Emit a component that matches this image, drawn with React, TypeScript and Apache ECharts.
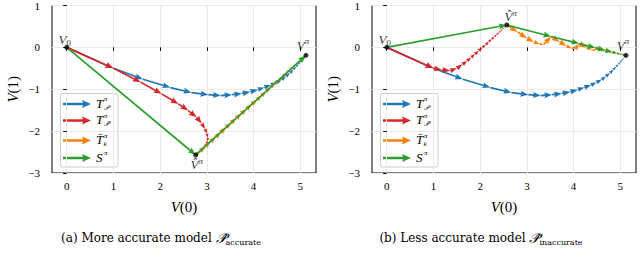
import React, { useEffect, useRef } from 'react';
import * as echarts from 'echarts';

// ---------- data ----------
const xTicks = [0, 1, 2, 3, 4, 5];
const yTicks = [-3, -2, -1, 0, 1];

const pointV0: [number, number] = [0, 0];
const pointVpi: [number, number] = [5.12, -0.19];
const pointVhatA: [number, number] = [2.76, -2.57];
const pointVhatB: [number, number] = [2.57, 0.535];

// T_P iterates (true model) – identical in both panels
const blueIter: [number, number][] = [
  [0, 0], [1.0, -0.5], [1.63, -0.76], [2.22, -0.96], [2.67, -1.08], [3.03, -1.13],
  [3.3, -1.15], [3.54, -1.13], [3.75, -1.1], [3.93, -1.06], [4.09, -1.01], [4.23, -0.96],
  [4.37, -0.9], [4.49, -0.84], [4.6, -0.77], [4.69, -0.69], [4.78, -0.61], [4.85, -0.53],
  [4.91, -0.46], [4.96, -0.4], [5.0, -0.35], [5.04, -0.3], [5.07, -0.26], [5.09, -0.23],
  [5.11, -0.21], [5.12, -0.19],
];

// Panel (a)
const redIterA: [number, number][] = [
  [0, 0], [1.0, -0.5], [1.58, -0.83], [2.03, -1.11], [2.39, -1.35], [2.6, -1.51],
  [2.78, -1.67], [2.89, -1.82], [2.96, -1.95], [3.0, -2.06], [3.02, -2.16], [3.01, -2.25],
  [2.98, -2.33], [2.94, -2.4], [2.9, -2.45], [2.86, -2.49], [2.83, -2.52], [2.8, -2.54],
  [2.78, -2.56], [2.76, -2.57],
];
const orangeIterA: [number, number][] = [
  [2.76, -2.57], [2.86, -2.47], [2.97, -2.36], [3.08, -2.25], [3.19, -2.14], [3.3, -2.03],
  [3.41, -1.91], [3.52, -1.8], [3.63, -1.69], [3.74, -1.58], [3.85, -1.47], [3.96, -1.36],
  [4.07, -1.25], [4.17, -1.15], [4.27, -1.05], [4.37, -0.95], [4.46, -0.86], [4.55, -0.77],
  [4.63, -0.69], [4.71, -0.6], [4.78, -0.53], [4.85, -0.46], [4.91, -0.4], [4.96, -0.35],
  [5.01, -0.3], [5.05, -0.26], [5.08, -0.23], [5.1, -0.21], [5.12, -0.19],
];
const greenIterA: [number, number][] = [[0, 0], [2.76, -2.57], [5.12, -0.19]];

// Panel (b)
const redIterB: [number, number][] = [
  [0, 0], [1.0, -0.5], [1.18, -0.54], [1.36, -0.56], [1.5, -0.5], [1.62, -0.41],
  [1.72, -0.32], [1.81, -0.24], [1.89, -0.16], [1.97, -0.08], [2.05, 0.0], [2.12, 0.07],
  [2.19, 0.14], [2.25, 0.2], [2.31, 0.26], [2.36, 0.31], [2.41, 0.36], [2.45, 0.4],
  [2.48, 0.44], [2.51, 0.47], [2.53, 0.49], [2.55, 0.51], [2.57, 0.535],
];
const orangeIterB: [number, number][] = [
  [2.57, 0.535], [2.8, 0.37], [3.0, 0.22], [3.15, 0.13], [3.27, 0.08], [3.36, 0.07],
  [3.52, 0.26], [3.7, 0.13], [3.85, 0.03], [3.96, -0.02], [4.03, -0.04],
  [4.12, 0.09], [4.28, 0.0], [4.38, -0.06], [4.43, -0.08],
  [4.47, -0.01], [4.58, -0.07], [4.64, -0.1],
  [4.68, -0.07], [4.77, -0.12], [4.81, -0.14],
  [4.83, -0.11], [4.9, -0.15], [4.93, -0.14], [4.98, -0.17], [5.0, -0.16],
  [5.04, -0.18], [5.05, -0.17], [5.09, -0.19], [5.12, -0.19],
];
const greenIterB: [number, number][] = [
  [0, 0], [2.57, 0.535], [3.52, 0.26], [4.12, 0.09], [4.47, -0.01], [4.68, -0.07],
  [4.83, -0.11], [4.93, -0.14], [5.0, -0.16], [5.05, -0.17], [5.12, -0.19],
];

const COLORS = { blue: '#1f77b4', red: '#d62728', orange: '#ff7f0e', green: '#2ca02c' };
const TICK_FONT = 'Liberation Serif';
const MATH_FONT = 'Liberation Serif';
const CAP_FONT = 'DejaVu Serif';

// ---------- helpers ----------
function toSegments(pts: [number, number][]) {
  const out: number[][] = [];
  for (let i = 0; i < pts.length - 1; i++) out.push([pts[i][0], pts[i][1], pts[i + 1][0], pts[i + 1][1]]);
  return out;
}

function arrowPts(a: number[], b: number[], w: number, hl: number, hal: number, hw: number) {
  const dx = b[0] - a[0];
  const dy = b[1] - a[1];
  const L = Math.hypot(dx, dy);
  if (L < 0.3) return null;
  const s = Math.min(1, L / hl);
  const ux = dx / L, uy = dy / L, nx = -uy, ny = ux;
  const W = (w * Math.max(s, 0.5)) / 2, HL = hl * s, HAL = hal * s, HW = hw * s;
  const P = (along: number, across: number) => [b[0] - ux * along + nx * across, b[1] - uy * along + ny * across];
  return [
    [a[0] + nx * W, a[1] + ny * W], P(HAL, W), P(HL, HW), [b[0], b[1]], P(HL, -HW), P(HAL, -W),
    [a[0] - nx * W, a[1] - ny * W],
  ];
}

function arrowSeries(name: string, pts: [number, number][], color: string, gi: number, z: number) {
  return {
    type: 'custom',
    name,
    xAxisIndex: gi,
    yAxisIndex: gi,
    coordinateSystem: 'cartesian2d',
    data: toSegments(pts),
    encode: { x: [0, 2], y: [1, 3] },
    z,
    silent: true,
    renderItem: (_p: any, api: any) => {
      const a = api.coord([api.value(0), api.value(1)]);
      const b = api.coord([api.value(2), api.value(3)]);
      const points = arrowPts(a, b, 1.7, 8, 7, 3);
      if (!points) return null;
      return { type: 'polygon', shape: { points }, style: { fill: color } };
    },
  };
}

const labelRich = {
  v: { fontFamily: MATH_FONT, fontStyle: 'italic', fontSize: 13, lineHeight: 17, color: '#000' },
  sub: { fontFamily: MATH_FONT, fontSize: 9, lineHeight: 9, verticalAlign: 'bottom', color: '#000' },
  sup: { fontFamily: MATH_FONT, fontStyle: 'italic', fontSize: 9, lineHeight: 9, verticalAlign: 'top', color: '#000' },
};

function pointSeries(gi: number, vhat: [number, number], hatBelow: boolean) {
  return {
    type: 'scatter',
    xAxisIndex: gi,
    yAxisIndex: gi,
    symbolSize: 5,
    z: 10,
    silent: true,
    itemStyle: { color: '#000' },
    label: { show: true, rich: labelRich },
    data: [
      { value: pointV0, label: { position: 'top', distance: 0, offset: [-2, 3], formatter: '{v|V}{sub|0}' } },
      { value: pointVpi, label: { position: 'top', distance: 0, offset: [-3, 1], formatter: '{v|V}{sup|π}' } },
      {
        value: vhat,
        label: {
          position: hatBelow ? 'bottom' : 'top',
          distance: 0,
          offset: hatBelow ? [1, -1] : [4, 3],
          formatter: '{v|V̂}{sup|π}',
        },
      },
    ],
  };
}

function axisPair(gi: number) {
  const nameRich = {
    i: { fontFamily: MATH_FONT, fontStyle: 'italic', fontSize: 15, color: '#000' },
    n: { fontFamily: MATH_FONT, fontSize: 15, color: '#000' },
  };
  const x = {
    gridIndex: gi,
    type: 'value',
    min: -0.315,
    max: 5.335,
    axisLine: { show: false },
    axisTick: { show: true, length: 3.5, customValues: xTicks, lineStyle: { color: '#000', width: 1 } },
    axisLabel: { customValues: xTicks, margin: 7, fontFamily: TICK_FONT, fontSize: 11, color: '#000' },
    splitLine: { show: true, lineStyle: { color: '#ebebeb', width: 1 } },
    name: '{i|V}{n|(0)}',
    nameLocation: 'middle',
    nameGap: 26,
    nameTextStyle: { rich: nameRich },
  };
  const y = {
    gridIndex: gi,
    type: 'value',
    min: yTicks[0],
    max: yTicks[yTicks.length - 1],
    interval: 1,
    axisLine: { show: false },
    axisTick: { show: true, length: 3.5, lineStyle: { color: '#000', width: 1 } },
    axisLabel: {
      margin: 12,
      fontFamily: TICK_FONT,
      fontSize: 11,
      color: '#000',
      formatter: (v: number) => (v < 0 ? '\u2212' + Math.abs(v) : String(v)),
    },
    splitLine: { show: true, lineStyle: { color: '#ebebeb', width: 1 } },
    name: '{i|V}{n|(1)}',
    nameLocation: 'middle',
    nameGap: 32,
    nameTextStyle: { rich: nameRich },
  };
  return { x, y };
}

function legendGraphic(ox: number) {
  const rows = [
    { y: 104, color: COLORS.blue, base: 'T', sup: 'π', sub: '𝒫' },
    { y: 120.5, color: COLORS.red, base: 'T', sup: 'π', sub: '𝒫̂' },
    { y: 140.5, color: COLORS.orange, base: 'T̄', sup: 'π', sub: 'k' },
    { y: 158, color: COLORS.green, base: 'S', sup: 'π', sub: '' },
  ];
  const children: any[] = [
    {
      type: 'rect',
      shape: { x: ox + 60.5, y: 93.5, width: 57.5, height: 73.5, r: 2 },
      style: { fill: 'rgba(255,255,255,0.85)', stroke: '#cccccc', lineWidth: 1 },
    },
  ];
  rows.forEach((r) => {
    const pts = arrowPts([ox + 63, r.y], [ox + 91, r.y], 2.6, 9, 8, 4);
    children.push({ type: 'polygon', shape: { points: pts }, style: { fill: r.color } });
    children.push({
      type: 'text',
      x: ox + 96,
      y: r.y - 1,
      style: { text: r.base, fontFamily: MATH_FONT, fontStyle: 'italic', fontSize: 13, fill: '#000', verticalAlign: 'middle', align: 'left' },
    });
    children.push({
      type: 'text',
      x: ox + 104,
      y: r.y - 5,
      style: { text: r.sup, fontFamily: MATH_FONT, fontStyle: 'italic', fontSize: 7, fill: '#000', verticalAlign: 'middle', align: 'left' },
    });
    if (r.sub) {
      children.push({
        type: 'text',
        x: ox + 103.5,
        y: r.y + 3.5,
        style: { text: r.sub, fontFamily: MATH_FONT, fontStyle: 'italic', fontSize: 7, fill: '#000', verticalAlign: 'middle', align: 'left' },
      });
    }
  });
  return { type: 'group', z: 50, children };
}

function caption(cx: number, label: string, sub: string) {
  return {
    type: 'text',
    x: cx,
    y: 238,
    z: 50,
    style: {
      text: `{t|${label} }{p|𝒫̂}{s|${sub}}`,
      align: 'center',
      verticalAlign: 'middle',
      rich: {
        t: { fontFamily: CAP_FONT, fontSize: 12, fill: '#000', color: '#000', lineHeight: 16 },
        p: { fontFamily: MATH_FONT, fontStyle: 'italic', fontSize: 14, fill: '#000', color: '#000', lineHeight: 16 },
        s: { fontFamily: CAP_FONT, fontSize: 8, fill: '#000', color: '#000', lineHeight: 8, verticalAlign: 'bottom' },
      },
    },
  };
}

export default function App() {
  const ref = useRef<HTMLDivElement>(null);
  useEffect(() => {
    if (!ref.current) return;
    const chart = echarts.init(ref.current, undefined, { renderer: 'svg' });
    const a = axisPair(0);
    const b = axisPair(1);
    chart.setOption({
      animation: false,
      backgroundColor: '#fff',
      grid: [
        { left: 52, top: 4, width: 264, height: 169, show: true, borderColor: '#000', borderWidth: 1, backgroundColor: 'transparent' },
        { left: 372, top: 4, width: 264, height: 169, show: true, borderColor: '#000', borderWidth: 1, backgroundColor: 'transparent' },
      ],
      xAxis: [a.x, b.x],
      yAxis: [a.y, b.y],
      series: [
        arrowSeries('T_P', blueIter, COLORS.blue, 0, 2),
        arrowSeries('T_Phat', redIterA, COLORS.red, 0, 3),
        arrowSeries('Tbar_k', orangeIterA, COLORS.orange, 0, 4),
        arrowSeries('S', greenIterA, COLORS.green, 0, 5),
        pointSeries(0, pointVhatA, true),
        arrowSeries('T_P', blueIter, COLORS.blue, 1, 2),
        arrowSeries('T_Phat', redIterB, COLORS.red, 1, 3),
        arrowSeries('Tbar_k', orangeIterB, COLORS.orange, 1, 4),
        arrowSeries('S', greenIterB, COLORS.green, 1, 5),
        pointSeries(1, pointVhatB, false),
      ],
      graphic: [
        legendGraphic(0),
        legendGraphic(320),
        caption(161, '(a) More accurate model', 'accurate'),
        caption(481, '(b) Less accurate model', 'inaccurate'),
      ],
    });
    return () => chart.dispose();
  }, []);
  return <div ref={ref} style={{ position: 'absolute', left: 0, top: 0, width: 640, height: 259 }} />;
}
